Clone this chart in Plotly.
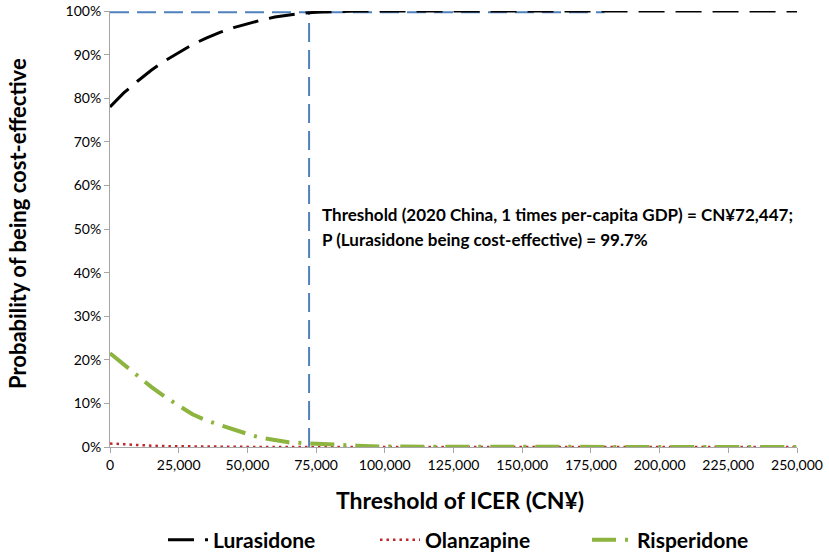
import plotly.graph_objects as go

# Thresholds (CN¥)
x_thr = [0, 5000, 10000, 15000, 20000, 25000, 30000, 35000, 40000, 45000, 50000,
         55000, 60000, 65000, 70000, 75000, 80000, 85000, 90000, 95000, 100000,
         125000, 150000, 175000, 200000, 225000, 250000]

# Probability of being cost-effective (%)
lurasidone = [78.0, 81.2, 83.9, 86.4, 88.6, 90.5, 92.3, 93.8, 95.1, 96.2, 97.1,
              97.9, 98.6, 99.1, 99.5, 99.7, 99.85, 99.9, 100, 100, 100,
              100, 100, 100, 100, 100, 100]
olanzapine = [0.8, 0.6, 0.4, 0.3, 0.2, 0.15, 0.1, 0.1, 0.05, 0.05, 0,
              0, 0, 0, 0, 0, 0, 0, 0, 0, 0,
              0, 0, 0, 0, 0, 0]
risperidone = [21.5, 18.9, 16.2, 13.8, 11.5, 9.6, 7.5, 6.1, 5.0, 4.0, 3.0,
               2.1, 1.5, 1.1, 0.9, 0.7, 0.5, 0.4, 0.3, 0.2, 0.1,
               0.05, 0, 0, 0, 0, 0]

# Reference threshold lines
wtp_threshold = 72447
p_at_threshold = 99.7
hline_x = [0, 180000]
vline_y = [0, 99.7]

x_ticks = [0, 25000, 50000, 75000, 100000, 125000, 150000, 175000, 200000, 225000, 250000]
y_ticks = [0, 10, 20, 30, 40, 50, 60, 70, 80, 90, 100]

FONT = "Lato"

fig = go.Figure()

fig.add_trace(go.Scatter(
    x=hline_x, y=[p_at_threshold, p_at_threshold], mode="lines",
    line=dict(color="#4F81BD", width=2, dash="19px,8px"),
    showlegend=False, hoverinfo="skip"))
fig.add_trace(go.Scatter(
    x=[wtp_threshold, wtp_threshold], y=vline_y, mode="lines",
    line=dict(color="#4F81BD", width=2, dash="19px,8px"),
    showlegend=False, hoverinfo="skip"))

fig.add_trace(go.Scatter(
    x=x_thr, y=lurasidone, mode="lines", name="<b>Lurasidone</b>",
    line=dict(color="#000000", width=3, dash="26px,11px")))
fig.add_trace(go.Scatter(
    x=x_thr, y=olanzapine, mode="lines", name="<b>Olanzapine</b>",
    line=dict(color="#C0272D", width=2.5, dash="2.5px,4px")))
fig.add_trace(go.Scatter(
    x=x_thr, y=risperidone, mode="lines", name="<b>Risperidone</b>",
    line=dict(color="#8DB43E", width=4, dash="24px,9px,3px,9px")))

fig.add_annotation(
    x=76300, y=53.4, xref="x", yref="y", xanchor="left", yanchor="middle",
    text="<b>Threshold (2020 China, 1 times per-capita GDP) = CN¥72,447;</b>",
    showarrow=False, font=dict(family=FONT, size=17, color="#000"))
fig.add_annotation(
    x=76300, y=47.5, xref="x", yref="y", xanchor="left", yanchor="middle",
    text="<b>P (Lurasidone being cost-effective) = 99.7%</b>",
    showarrow=False, font=dict(family=FONT, size=17, color="#000"))

# Axis titles
fig.add_annotation(
    x=0.5095, y=-0.1216, xref="paper", yref="paper", xanchor="center", yanchor="middle",
    text="<b>Threshold of ICER (CN¥)</b>", showarrow=False,
    font=dict(family=FONT, size=23, color="#000"))
fig.add_annotation(
    x=-0.1339, y=0.5115, xref="paper", yref="paper", xanchor="center", yanchor="middle",
    text="<b>Probability of being cost-effective</b>", showarrow=False, textangle=-90,
    font=dict(family=FONT, size=22, color="#000"))

fig.update_layout(
    width=829, height=553,
    margin=dict(l=110, r=32, t=11, b=106, autoexpand=False),
    paper_bgcolor="white", plot_bgcolor="white",
    font=dict(family=FONT, color="#000"),
    showlegend=True,
    legend=dict(orientation="h", x=0.1966, xanchor="left", xref="container",
                y=0.0235, yanchor="middle", yref="container",
                font=dict(family=FONT, size=21, color="#000"),
                itemwidth=40, traceorder="normal", entrywidthmode="pixels",
                entrywidth=157, bgcolor="rgba(0,0,0,0)"),
)
fig.update_xaxes(
    range=[0, 250000], tickvals=x_ticks, tickformat=",d", automargin=False,
    showgrid=False, zeroline=False, showline=True, linecolor="#A6A6A6", linewidth=1,
    ticks="outside", ticklen=5, tickcolor="#A6A6A6", ticklabeloverflow="allow",
    tickfont=dict(family=FONT, size=14, color="#000"))
fig.update_yaxes(
    range=[0, 100], tickvals=y_ticks, ticktext=[f"{v}%" for v in y_ticks], automargin=False,
    showgrid=False, zeroline=False, showline=True, linecolor="#A6A6A6", linewidth=1,
    ticks="outside", ticklen=5, tickcolor="#A6A6A6", ticklabeloverflow="allow",
    tickfont=dict(family=FONT, size=14, color="#000"))

fig.write_html("out.html", config={"displayModeBar": False},
               post_script="document.body.style.margin='0';")
